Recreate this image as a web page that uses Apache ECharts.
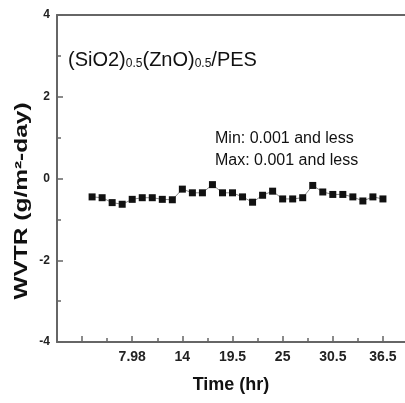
<!DOCTYPE html>
<html>
<head>
<meta charset="utf-8">
<script src="https://cdn.jsdelivr.net/npm/echarts@6/dist/echarts.min.js"></script>
<style>html,body{margin:0;padding:0;background:#fff}#c{width:405px;height:403px}</style>
</head>
<body>
<div id="c"></div>
<script>
// Point index along the time axis (uniform sampling)
var pointIndex = [1,2,3,4,5,6,7,8,9,10,11,12,13,14,15,16,17,18,19,20,21,22,23,24,25,26,27,28,29,30];
// WVTR values (g/m^2-day)
var wvtr = [-0.45,-0.47,-0.59,-0.63,-0.51,-0.47,-0.47,-0.51,-0.52,-0.26,-0.35,-0.35,-0.15,-0.35,-0.35,-0.45,-0.58,-0.41,-0.31,-0.50,-0.50,-0.47,-0.17,-0.33,-0.39,-0.39,-0.45,-0.55,-0.45,-0.50];
// X tick positions (in point index units) and their labels
var majorTicks = [0,5,10,15,20,25,30];
var labelTicks = [5,10,15,20,25,30];
var tickLabels = ['7.98','14','19.5','25','30.5','36.5'];
var minorTicks = [2.5,7.5,12.5,17.5,22.5,27.5];

var data = pointIndex.map(function(x,i){return [x, wvtr[i]];});
var FONT = '"Liberation Sans", Arial, sans-serif';
var AX = '#666';
var XMIN = -2.5, XMAX = 32.2;

var chart = echarts.init(document.getElementById('c'), null, {renderer:'canvas'});
chart.setOption({
  animation:false,
  backgroundColor:'#fff',
  grid:{left:57, right:0, top:15, bottom:61},
  xAxis:[{
    type:'value', min:XMIN, max:XMAX, position:'bottom',
    axisLine:{show:true, onZero:false, lineStyle:{color:AX, width:2}},
    axisTick:{show:true, inside:true, length:6, customValues:majorTicks, lineStyle:{color:AX, width:1.5}},
    axisLabel:{show:true, customValues:labelTicks, margin:8, color:'#222', fontFamily:FONT, fontWeight:'bold', fontSize:14,
      formatter:function(v){var k=labelTicks.indexOf(Math.round(v)); return k>=0?tickLabels[k]:'';}},
    splitLine:{show:false},
    name:'Time (hr)', nameLocation:'middle', nameGap:34,
    nameTextStyle:{color:'#111', fontFamily:FONT, fontWeight:'bold', fontSize:18}
  },{
    type:'value', min:XMIN, max:XMAX, position:'bottom',
    axisLine:{show:false, onZero:false},
    axisTick:{show:true, inside:true, length:4, customValues:minorTicks, lineStyle:{color:AX, width:1.5}},
    axisLabel:{show:false}, splitLine:{show:false}
  },{
    type:'value', min:XMIN, max:XMAX, position:'top',
    axisLine:{show:true, onZero:false, lineStyle:{color:AX, width:2}},
    axisTick:{show:false}, axisLabel:{show:false}, splitLine:{show:false}
  }],
  yAxis:{
    type:'value', min:-4, max:4, interval:2,
    axisLine:{show:true, onZero:false, lineStyle:{color:AX, width:2}},
    axisTick:{show:true, inside:true, length:6, lineStyle:{color:AX, width:1.5}},
    minorTick:{show:true, splitNumber:2, length:4, lineStyle:{color:AX, width:1.5}},
    axisLabel:{margin:7, color:'#222', fontFamily:FONT, fontWeight:'bold', fontSize:12},
    splitLine:{show:false}
  },
  graphic:[{
    type:'text', x:22, y:201, rotation:Math.PI/2, scaleX:1.36, scaleY:1,
    style:{text:'WVTR (g/m²-day)', fill:'#111', font:'bold 18px '+FONT, align:'center', verticalAlign:'middle'}
  },{
    type:'text', x:68, y:46,
    style:{
      text:'{m|(SiO2)}{s|0.5}{m|(ZnO)}{s|0.5}{m|/PES}',
      fill:'#111', font:'20px '+FONT,
      rich:{
        m:{fontSize:20, fontFamily:FONT, lineHeight:24, verticalAlign:'bottom', fill:'#111'},
        s:{fontSize:12, fontFamily:FONT, lineHeight:10, verticalAlign:'bottom', fill:'#111'}
      }
    }
  },{
    type:'text', x:215, y:128,
    style:{text:'Min: 0.001 and less\nMax: 0.001 and less', fill:'#111', font:'16px '+FONT, lineHeight:22}
  }],
  series:[{
    type:'line', data:data, xAxisIndex:0, yAxisIndex:0,
    symbol:'rect', symbolSize:7, showSymbol:true,
    lineStyle:{color:'#888', width:1},
    itemStyle:{color:'#111'}
  }]
});
</script>
</body>
</html>
